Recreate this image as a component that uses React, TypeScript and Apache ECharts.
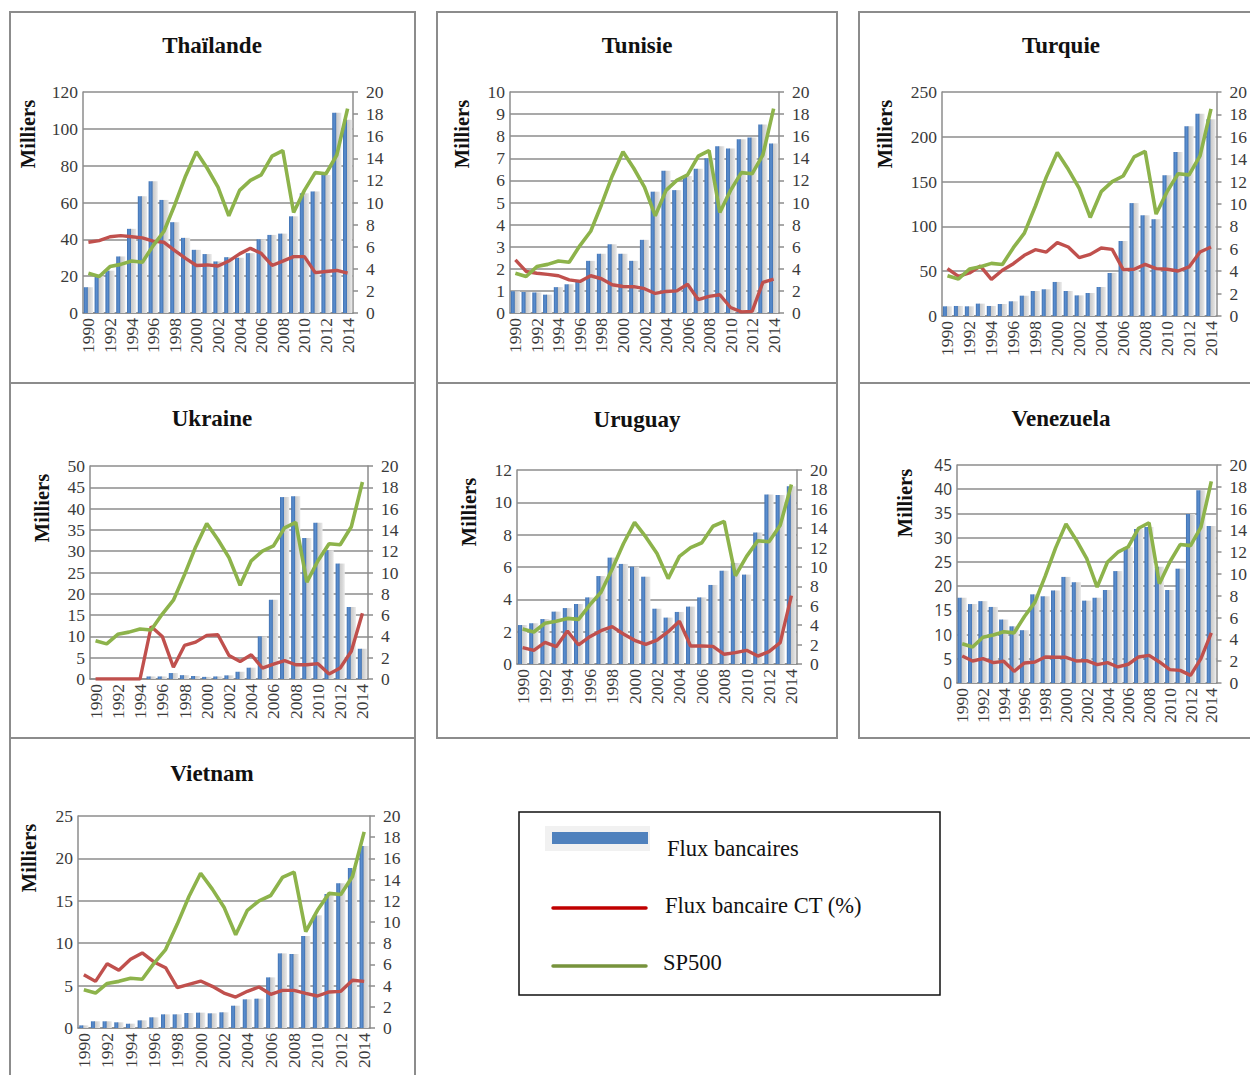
import React, { useEffect, useRef } from "react";
import * as echarts from "echarts";

// Années (axe des catégories)
const years = [
  "1990", "1991", "1992", "1993", "1994", "1995", "1996", "1997", "1998", "1999",
  "2000", "2001", "2002", "2003", "2004", "2005", "2006", "2007", "2008", "2009",
  "2010", "2011", "2012", "2013", "2014",
];

// Indice SP500 (axe de droite, commun à tous les pays)
const sp500 = [
  3.6, 3.3, 4.2, 4.4, 4.7, 4.6, 6.1, 7.4, 9.8, 12.4,
  14.6, 13.1, 11.4, 8.8, 11.1, 12.0, 12.5, 14.2, 14.7, 9.1,
  11.1, 12.7, 12.6, 14.3, 18.5,
];

// Thaïlande
const thaiBank = [
  14, 20, 23, 30.7, 45.7, 63.4, 71.5, 61.4, 49.3, 40.8,
  34.3, 32, 28, 30.3, 30, 32.5, 40, 42.4, 43.1, 52.5,
  65, 66, 75, 108.7, 105,
];
const thaiShort = [
  6.4, 6.55, 6.9, 7.0, 6.9, 6.8, 6.5, 6.4, 5.65, 4.95,
  4.3, 4.35, 4.25, 4.7, 5.35, 5.85, 5.4, 4.3, 4.7, 5.1,
  5.1, 3.65, 3.75, 3.85, 3.6,
];

// Tunisie
const tunBank = [
  0.98, 0.95, 0.93, 0.83, 1.17, 1.3, 1.5, 2.36, 2.68, 3.11,
  2.68, 2.36, 3.31, 5.49, 6.44, 5.56, 6.2, 6.53, 7.0, 7.55,
  7.44, 7.86, 7.94, 8.53, 7.67,
];
const tunShort = [
  4.8, 3.76, 3.6, 3.5, 3.37, 3.0, 2.86, 3.37, 3.1, 2.56,
  2.4, 2.38, 2.2, 1.77, 1.95, 2.0, 2.6, 1.2, 1.5, 1.65,
  0.5, 0.1, 0.15, 2.77, 3.07,
];

// Turquie
const turBank = [
  10.8, 11.2, 10.8, 13.8, 11.2, 13.4, 16.4, 22.7, 27.9, 29.8,
  38, 27.9, 23, 25.7, 32.4, 48, 83.7, 126, 112.4, 108,
  157, 183, 211.7, 225.8, 219.5,
];
const turShort = [
  4.23, 3.54, 3.84, 4.46, 3.27, 4.08, 4.67, 5.42, 5.92, 5.71,
  6.55, 6.16, 5.21, 5.5, 6.07, 5.95, 4.14, 4.17, 4.61, 4.23,
  4.17, 4.02, 4.38, 5.71, 6.16,
];

// Ukraine
const ukrBank = [
  0, 0, 0, 0, 0, 0.6, 0.6, 1.4, 0.9, 0.7,
  0.5, 0.6, 0.85, 1.7, 2.65, 10, 18.6, 42.7, 42.9, 33.1,
  36.7, 30.2, 27.1, 16.9, 7.1,
];
const ukrShort = [
  0, 0, 0, 0, 0, 4.93, 4.0, 1.1, 3.15, 3.46,
  4.1, 4.15, 2.2, 1.65, 2.28, 1.03, 1.4, 1.72, 1.34, 1.34,
  1.44, 0.47, 1.03, 2.6, 6.18,
];

// Uruguay
const uryBank = [
  2.41, 2.52, 2.78, 3.24, 3.46, 3.71, 4.12, 5.44, 6.58, 6.19,
  6.02, 5.4, 3.42, 2.87, 3.22, 3.55, 4.12, 4.89, 5.77, 6.25,
  5.53, 8.14, 10.49, 10.45, 11.0,
];
const uryShort = [
  1.68, 1.41, 2.23, 1.79, 3.4, 1.96, 2.82, 3.44, 3.85, 3.09,
  2.44, 2.03, 2.47, 3.33, 4.4, 1.86, 1.86, 1.82, 1.0, 1.17,
  1.41, 0.82, 1.27, 2.2, 7.04,
];

// Venezuela
const venBank = [
  17.6, 16.3, 16.9, 15.7, 13.1, 11.7, 10.9, 18.3, 17.9, 19.1,
  21.9, 20.8, 17.0, 17.6, 19.2, 23.1, 28, 31.8, 32.2, 24,
  19.2, 23.6, 34.9, 39.8, 32.4,
];
const venShort = [
  2.48, 2.02, 2.24, 1.87, 1.99, 1.07, 1.84, 1.93, 2.39, 2.36,
  2.36, 2.02, 2.05, 1.68, 1.87, 1.47, 1.72, 2.39, 2.54, 1.93,
  1.23, 1.16, 0.7, 2.24, 4.59,
];

// Vietnam
const vnmBank = [
  0.31, 0.79, 0.79, 0.67, 0.51, 0.9, 1.26, 1.61, 1.61, 1.77,
  1.81, 1.73, 1.85, 2.63, 3.38, 3.46, 5.97, 8.8, 8.73, 10.85,
  13.29, 15.8, 17.06, 18.87, 21.46,
];
const vnmShort = [
  5.03, 4.4, 6.07, 5.44, 6.48, 7.08, 6.23, 5.69, 3.8, 4.12,
  4.43, 3.93, 3.3, 2.92, 3.46, 3.87, 3.18, 3.55, 3.55, 3.27,
  3.02, 3.4, 3.46, 4.5, 4.4,
];

// Axe de gauche (milliers) : bornes de chaque pays
const countries = ["Thaïlande", "Tunisie", "Turquie", "Ukraine", "Uruguay", "Venezuela", "Vietnam"];
const leftMax = [120, 10, 250, 50, 12, 45, 25];
const leftStep = [20, 1, 50, 5, 2, 5, 5];
const rightMax = 20;
const rightStep = 2;

const bankSeries = [thaiBank, tunBank, turBank, ukrBank, uryBank, venBank, vnmBank];
const shortSeries = [thaiShort, tunShort, turShort, ukrShort, uryShort, venShort, vnmShort];

const legendNames = ["Flux bancaires", "Flux bancaire CT (%)", "SP500"];

// Mise en page des panneaux : cadre, zone de tracé, titre, libellé d'axe
const layout = [
  { frame: [10, 12, 405, 371], grid: [83, 92, 270, 221], title: [212, 45], unit: [28, 134] },
  { frame: [437, 12, 400, 371], grid: [510, 92, 269, 221], title: [637, 45], unit: [462, 134] },
  { frame: [859, 12, 400, 371], grid: [942, 92, 277, 224], title: [1061, 45], unit: [885, 134] },
  { frame: [10, 383, 405, 355], grid: [90, 466, 278, 213], title: [212, 418], unit: [42, 508] },
  { frame: [437, 383, 400, 355], grid: [517, 470, 280, 194], title: [637, 419], unit: [469, 512] },
  { frame: [859, 383, 400, 355], grid: [957, 465, 261, 218], title: [1061, 418], unit: [905, 503] },
  { frame: [10, 738, 405, 360], grid: [78, 816, 292, 212], title: [212, 773], unit: [29, 858] },
];

const SERIF = "'Liberation Serif', 'DejaVu Serif', serif";
const SANS = "'Open Sans', 'Liberation Sans', sans-serif";
const GRID_GRAY = "#8c8c8c";
const LABEL_COLOR = "#3a3a3a";
const RED = "#c0504d";
const GREEN = "#8db34b";

// Barre bleue légèrement bombée (plus claire au centre)
const BLUE_FILL = new echarts.graphic.LinearGradient(0, 0, 1, 0, [
  { offset: 0, color: "#3f70b0" },
  { offset: 0.5, color: "#5b8fd0" },
  { offset: 1, color: "#3f70b0" },
]);

// Ombre portée grise à droite de chaque barre
const SHADE_FILL = new echarts.graphic.LinearGradient(0, 0, 1, 0, [
  { offset: 0, color: "#c4c4c4" },
  { offset: 0.6, color: "#d8d8d8" },
  { offset: 1, color: "#ebebeb" },
]);

function buildOption() {
  const grid: any[] = [];
  const xAxis: any[] = [];
  const yAxis: any[] = [];
  const series: any[] = [];
  const graphic: any[] = [];

  countries.forEach((name, i) => {
    const L = layout[i];
    const [gx, gy, gw, gh] = L.grid;
    grid.push({ left: gx, top: gy, width: gw, height: gh, containLabel: false });

    xAxis.push({
      type: "category",
      gridIndex: i,
      data: years,
      boundaryGap: true,
      axisLine: { show: true, lineStyle: { color: GRID_GRAY, width: 1.5 } },
      axisTick: { show: false },
      axisLabel: {
        rotate: 90,
        interval: 1,
        margin: 5,
        fontFamily: SERIF,
        fontSize: 17.5,
        color: LABEL_COLOR,
      },
      splitLine: { show: false },
    });

    yAxis.push({
      type: "value",
      gridIndex: i,
      min: 0,
      max: leftMax[i],
      interval: leftStep[i],
      axisLine: { show: true, lineStyle: { color: GRID_GRAY, width: 1.5 } },
      axisTick: { show: false },
      axisLabel: {
        margin: 5,
        fontFamily: name === "Venezuela" ? SANS : SERIF,
        fontSize: name === "Venezuela" ? 15.5 : 17.5,
        color: LABEL_COLOR,
      },
      splitLine: { show: true, lineStyle: { color: GRID_GRAY, width: 1.5 } },
    });
    yAxis.push({
      type: "value",
      gridIndex: i,
      position: "right",
      min: 0,
      max: rightMax,
      interval: rightStep,
      axisLine: { show: true, lineStyle: { color: GRID_GRAY, width: 1.5 } },
      axisTick: { show: true, inside: false, length: 5, lineStyle: { color: GRID_GRAY, width: 1.5 } },
      axisLabel: { margin: 13, fontFamily: SERIF, fontSize: 17.5, color: LABEL_COLOR },
      splitLine: { show: false },
    });

    series.push({
      name: legendNames[0],
      type: "bar",
      xAxisIndex: i,
      yAxisIndex: i * 2,
      data: bankSeries[i],
      barWidth: 4,
      barGap: "-20%",
      itemStyle: { color: BLUE_FILL },
      z: 3,
    });
    series.push({
      name: legendNames[0] + " (ombre)",
      type: "bar",
      xAxisIndex: i,
      yAxisIndex: i * 2,
      data: bankSeries[i],
      barWidth: 6,
      barGap: "-20%",
      itemStyle: { color: SHADE_FILL },
      silent: true,
      z: 2,
    });
    series.push({
      name: legendNames[1],
      type: "line",
      xAxisIndex: i,
      yAxisIndex: i * 2 + 1,
      data: shortSeries[i],
      symbol: "none",
      lineStyle: { color: RED, width: 3.4 },
      z: 4,
    });
    series.push({
      name: legendNames[2],
      type: "line",
      xAxisIndex: i,
      yAxisIndex: i * 2 + 1,
      data: sp500,
      symbol: "none",
      lineStyle: { color: GREEN, width: 3.6 },
      z: 5,
    });

    const [fx, fy, fw, fh] = L.frame;
    graphic.push({
      type: "rect",
      shape: { x: fx, y: fy, width: fw, height: fh },
      style: { fill: "none", stroke: "#8c8c8c", lineWidth: 2 },
      silent: true,
      z: 0,
    });
    graphic.push({
      type: "text",
      x: L.title[0],
      y: L.title[1],
      style: {
        text: name,
        fontFamily: SERIF,
        fontWeight: "bold",
        fontSize: 23,
        fill: "#111",
        align: "center",
        verticalAlign: "middle",
      },
    });
    graphic.push({
      type: "text",
      x: L.unit[0],
      y: L.unit[1],
      rotation: Math.PI / 2,
      style: {
        text: "Milliers",
        fontFamily: SERIF,
        fontWeight: "bold",
        fontSize: 20.5,
        fill: "#111",
        align: "center",
        verticalAlign: "middle",
      },
    });
  });

  // Légende encadrée
  graphic.push({
    type: "group",
    children: [
      {
        type: "rect",
        shape: { x: 519, y: 812, width: 421, height: 183 },
        style: { fill: "#fff", stroke: "#111", lineWidth: 1.5 },
      },
      {
        type: "rect",
        shape: { x: 545, y: 826, width: 105, height: 25 },
        style: { fill: "#f1f1f1" },
      },
      {
        type: "rect",
        shape: { x: 552, y: 832, width: 96, height: 12 },
        style: { fill: "#4f81bd" },
      },
      {
        type: "text",
        x: 667,
        y: 848,
        style: { text: legendNames[0], fontFamily: SERIF, fontSize: 22.5, fill: "#111", verticalAlign: "middle" },
      },
      {
        type: "line",
        shape: { x1: 553, y1: 908, x2: 646, y2: 908 },
        style: { stroke: "#c00000", lineWidth: 3.5, lineCap: "round" },
      },
      {
        type: "text",
        x: 665,
        y: 905,
        style: { text: legendNames[1], fontFamily: SERIF, fontSize: 22.5, fill: "#111", verticalAlign: "middle" },
      },
      {
        type: "line",
        shape: { x1: 553, y1: 966, x2: 646, y2: 966 },
        style: { stroke: "#77933c", lineWidth: 3.5, lineCap: "round" },
      },
      {
        type: "text",
        x: 663,
        y: 962,
        style: { text: legendNames[2], fontFamily: SERIF, fontSize: 22.5, fill: "#111", verticalAlign: "middle" },
      },
    ],
  });

  return {
    animation: false,
    backgroundColor: "#ffffff",
    grid,
    xAxis,
    yAxis,
    series,
    graphic,
  };
}

export default function App() {
  const ref = useRef<HTMLDivElement>(null);

  useEffect(() => {
    if (!ref.current) return;
    const chart = echarts.init(ref.current, undefined, { renderer: "svg" });
    chart.setOption(buildOption());
    return () => chart.dispose();
  }, []);

  return (
    <div
      ref={ref}
      style={{ position: "absolute", left: 0, top: 0, width: 1250, height: 1075, background: "#fff" }}
    />
  );
}
